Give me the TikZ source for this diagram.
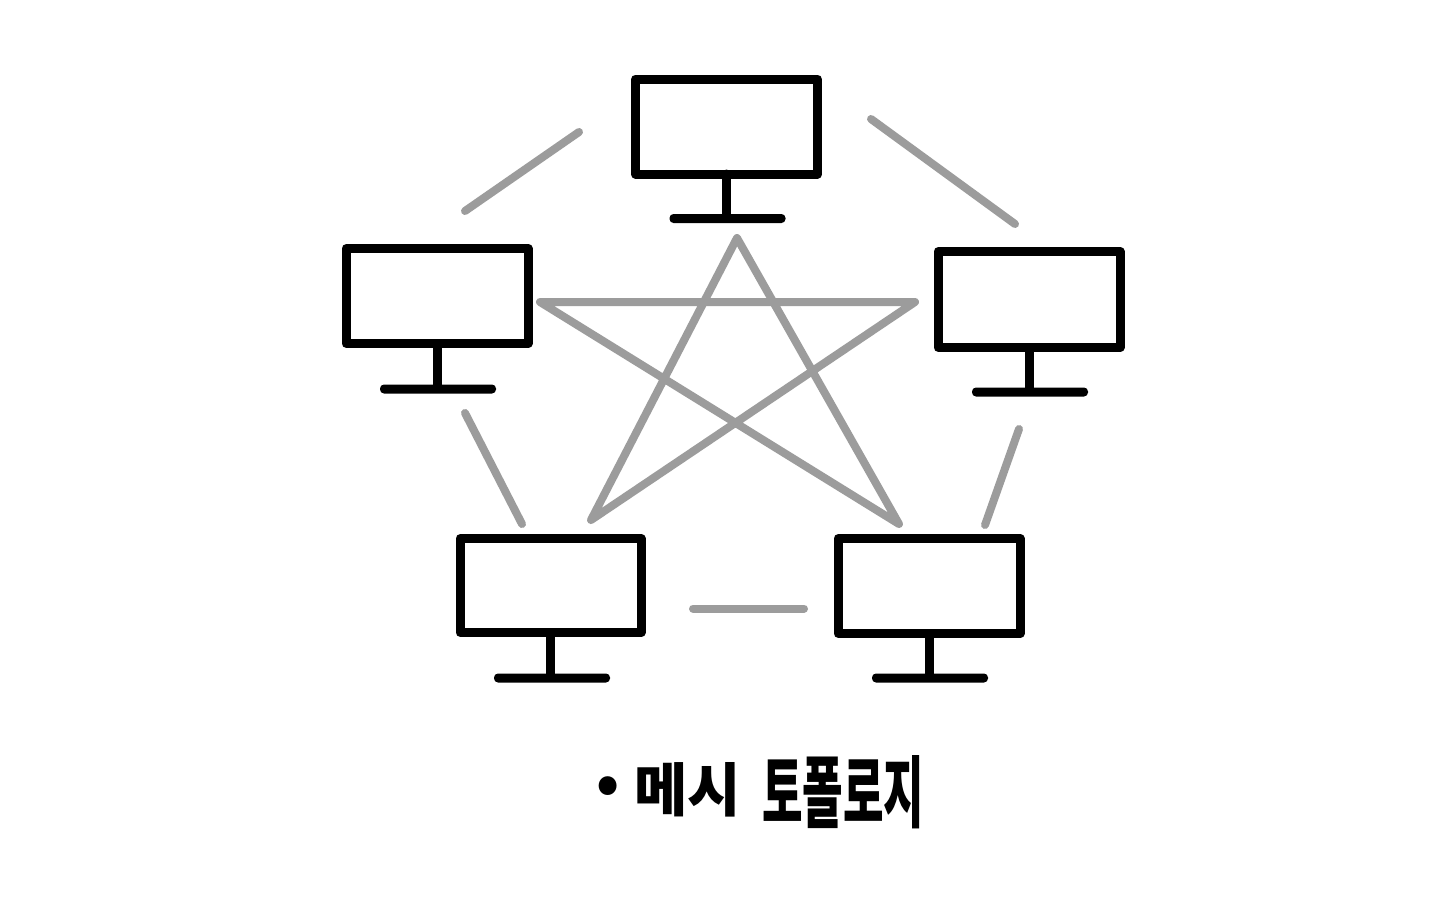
\documentclass[tikz,border=0pt]{standalone}
\usepackage{fontspec}
\newfontfamily\krfont{Noto Sans CJK KR}[BoldFont={* Black}]
\definecolor{linkgray}{HTML}{9C9C9C}
\tikzset{
  screen/.style={draw=black,line width=9pt,line join=round,minimum width=182pt,minimum height=95pt,inner sep=0pt,outer sep=0pt,fill=white},
  basebar/.style={fill=black,rounded corners=4pt,minimum width=116pt,minimum height=9pt,inner sep=0pt,outer sep=0pt},
  standline/.style={line width=9pt,black,line cap=round},
  link/.style={line width=8pt,linkgray,line cap=round,line join=round},
  caption/.style={text=black,inner sep=0pt,anchor=west}
}
\begin{document}
\begin{tikzpicture}[x=1pt,y=-1pt]
\useasboundingbox (0,0) rectangle (1440,900);
\fill[white] (0,0) rectangle (1440,900);
% links
\coordinate (a1) at (465,211); \coordinate (a2) at (579,132);
\coordinate (b1) at (871,119); \coordinate (b2) at (1015,224);
\coordinate (c1) at (465,413); \coordinate (c2) at (522,524);
\coordinate (d1) at (1019,429); \coordinate (d2) at (985,525);
\coordinate (e1) at (693,608.5); \coordinate (e2) at (804,608.5);
\coordinate (s1) at (737,238); \coordinate (s2) at (591,520);
\coordinate (s3) at (915,302); \coordinate (s4) at (540,302);
\coordinate (s5) at (899,524);
\draw[link] (a1) -- (a2);
\draw[link] (b1) -- (b2);
\draw[link] (c1) -- (c2);
\draw[link] (d1) -- (d2);
\draw[link] (e1) -- (e2);
\draw[link] (s1) -- (s2) -- (s3) -- (s4) -- (s5) -- cycle;
% monitors
\node[screen] (top) at (726.5,126.5) {};
\node[basebar] (topbase) at (727.5,218.5) {};
\draw[standline] (top.south) -- (top.south |- topbase.north);
\node[screen] (left) at (437,296) {};
\node[basebar] (leftbase) at (438,389) {};
\draw[standline] (left.south) -- (left.south |- leftbase.north);
\node[screen,minimum height=96pt] (right) at (1029,299.5) {};
\node[basebar] (rightbase) at (1030,392) {};
\draw[standline] (right.south) -- (right.south |- rightbase.north);
\node[screen,minimum width=181pt,minimum height=94pt] (bl) at (550.5,585.5) {};
\node[basebar] (blbase) at (552,678) {};
\draw[standline] (bl.south) -- (bl.south |- blbase.north);
\node[screen] (br) at (929,586) {};
\node[basebar] (brbase) at (930,678) {};
\draw[standline] (br.south) -- (br.south |- brbase.north);
% caption
\node[caption,font=\krfont\bfseries\fontsize{58pt}{60pt}\selectfont] (capa) at (596,790) {•};
\node[caption,font=\krfont\bfseries\fontsize{58pt}{60pt}\selectfont] (capb) at (634,790) {메시};
\node[caption,font=\krfont\bfseries\fontsize{58pt}{60pt}\selectfont,xscale=.76,yscale=1.35] (capc) at (762,792) {토폴로지};
\end{tikzpicture}
\end{document}
